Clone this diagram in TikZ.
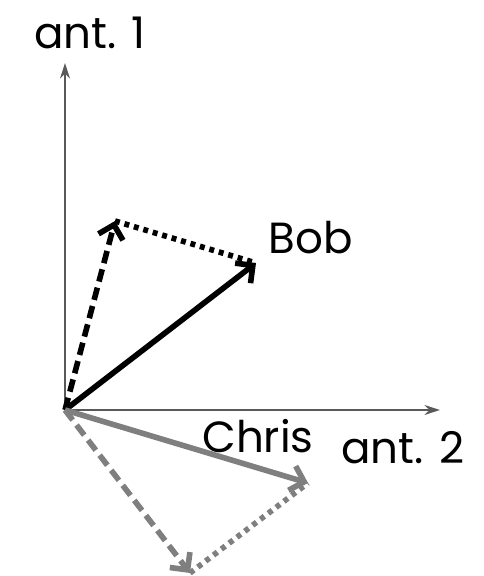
\documentclass[tikz,border=0pt]{standalone}
\usepackage{fontspec}
\setmainfont{Poppins}
\usetikzlibrary{arrows.meta, positioning}
\definecolor{axisgray}{HTML}{595959}
\definecolor{chrisgray}{HTML}{7F7F7F}

\begin{document}
\begin{tikzpicture}[
    x=0.025cm, y=-0.025cm,
    axis/.style={draw=axisgray, line width=1.6pt, -{Stealth[length=11pt, width=7pt]}},
    vec/.style={line width=4pt, -{Straight Barb[length=9pt, width=18pt]}},
    dashvec/.style={vec, dash pattern=on 9pt off 4.5pt},
    dotvec/.style={line width=4pt, dash pattern=on 3.5pt off 3.5pt},
    label/.style={font=\fontsize{31}{35}\selectfont, inner sep=0pt}
]
    \useasboundingbox (0,0) rectangle (483,576);
    \coordinate (origin) at (65,410);
    \coordinate (top) at (65,63);
    \coordinate (right) at (440,410);
    \coordinate (bobtip) at (256,263);
    \coordinate (bobside) at (115,221);
    \coordinate (christip) at (308,483);
    \coordinate (chrisside) at (190,573);

    \node[label] (ant1) at (90,33) {ant. 1};
    \node[label] (bob) at (311,238) {Bob};
    \node[label] (chris) at (258,436) {Chris};
    \node[label] (ant2) at (403,448) {ant. 2};

    \draw[axis] (origin) -- (top);
    \draw[axis] (origin) -- (right);

    \draw[dotvec] (bobside) -- (bobtip);
    \draw[dashvec] (origin) -- (bobside);
    \draw[vec] (origin) -- (bobtip);

    \draw[dotvec, chrisgray] (chrisside) -- (christip);
    \draw[dashvec, chrisgray] (origin) -- (chrisside);
    \draw[vec, chrisgray] (origin) -- (christip);
\end{tikzpicture}
\end{document}
